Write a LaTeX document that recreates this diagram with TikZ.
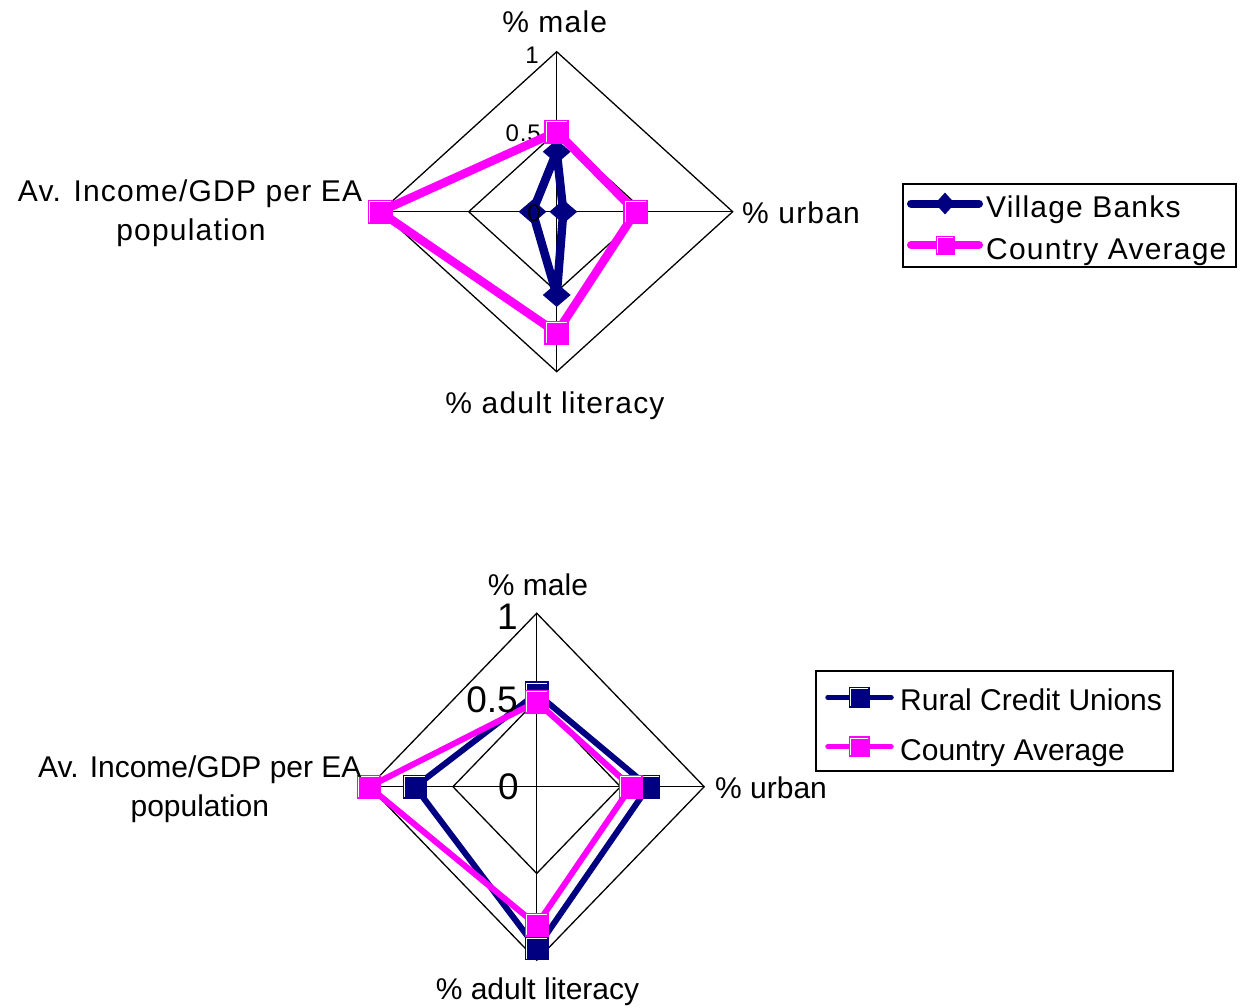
\documentclass[tikz,border=0pt]{standalone}
\usepackage{fontspec}
\setmainfont{Liberation Sans}
\newfontfamily\topfont[LetterSpace=4]{Liberation Sans}
\usetikzlibrary{shapes.geometric}
\definecolor{sernavy}{HTML}{000080}
\definecolor{sermag}{HTML}{FF00FF}
\tikzset{
  gridline/.style={black, line width=1.3pt},
  seriesA/.style={sernavy, line width=#1, line join=round},
  seriesB/.style={sermag, line width=#1, line join=round},
  sqmark/.style={rectangle, fill=#1, draw=none, inner sep=0pt, minimum width=25pt, minimum height=24pt},
  dimark/.style={diamond, fill=sernavy, draw=none, inner sep=0pt, minimum width=28pt, minimum height=24pt},
  hilite/.style={white, line width=1pt},
  toplabel/.style={font=\topfont\fontsize{30}{30}\selectfont, inner sep=0pt},
  botlabel/.style={font=\fontsize{30}{30}\selectfont, inner sep=0pt},
  toptick/.style={font=\topfont\fontsize{24}{24}\selectfont, inner sep=0pt, anchor=east},
  bottick/.style={font=\fontsize{37}{37}\selectfont, inner sep=0pt, anchor=east},
  legbox/.style={black, line width=1.5pt},
}
\newcommand{\hl}[1]{\draw[hilite] ([shift={(2,-2)}]#1.south west) -- ([shift={(2,2)}]#1.north west) -- ([shift={(-2,2)}]#1.north east);}
\begin{document}
\begin{tikzpicture}[x=1pt, y=-1pt]
\path[use as bounding box, fill=white] (0,0) rectangle (1240,1007);

% ================= Chart 1 =================
\coordinate (c1) at (556.7,211.7);
\coordinate (c1t) at (556.7,51.7);
\coordinate (c1r) at (732.7,211.7);
\coordinate (c1b) at (556.7,371.7);
\coordinate (c1l) at (380.7,211.7);
\coordinate (c1th) at (556.7,131.7);
\coordinate (c1rh) at (644.7,211.7);
\coordinate (c1bh) at (556.7,291.7);
\coordinate (c1lh) at (468.7,211.7);
\draw[gridline] (c1t) -- (c1r) -- (c1b) -- (c1l) -- cycle;
\draw[gridline] (c1th) -- (c1rh) -- (c1bh) -- (c1lh) -- cycle;
\draw[gridline] (c1t) -- (c1b);
\draw[gridline] (c1l) -- (c1r);

\node[toptick] (tk1a) at (539,55) {1};
\node[toptick] (tk1b) at (541,133.5) {0.5};

% Village Banks
\coordinate (vbm) at (556.7,151.7);
\coordinate (vbu) at (563.3,211.7);
\coordinate (vbl) at (556.7,295);
\coordinate (vbi) at (532.5,211.7);
\draw[seriesA=8.5pt] (vbm) -- (vbu) -- (vbl) -- (vbi) -- cycle;
\foreach \p in {vbm,vbu,vbl,vbi} \node[dimark] (\p n) at (\p) {};
\node[toptick] (tk1c) at (541,213) {0};

% Country Average (chart 1)
\coordinate (cam) at (556.7,131.7);
\coordinate (cau) at (635.7,211.7);
\coordinate (cal) at (556.7,332.7);
\coordinate (cai) at (380,211.7);
\draw[seriesB=8.5pt] (cam) -- (cau) -- (cal) -- (cai) -- cycle;
\foreach \p in {cam,cau,cal,cai} {\node[sqmark=sermag] (\p n) at (\p) {}; \hl{\p n}}

% axis labels chart 1
\node[toplabel, anchor=base] (l1male) at (554.7,32.5) {\% male};
\node[toplabel, anchor=base west] (l1urban) at (742,223) {\% urban};
\node[toplabel, anchor=base] (l1lit) at (555,413.5) {\% adult literacy};
\node[toplabel, anchor=base] (l1inc) at (190,201.5) {Av. Income/GDP per EA};
\node[toplabel, anchor=base] (l1pop) at (191,240.5) {population};

% legend 1
\draw[legbox] (903,184) rectangle (1236,267);
\coordinate (lg1a1) at (911,203.5);
\coordinate (lg1a2) at (979,203.5);
\draw[sernavy, line width=8pt, line cap=round] (lg1a1) -- (lg1a2);
\node[dimark, minimum width=20pt, minimum height=22pt] (lg1am) at (945,203.5) {};
\node[toplabel, anchor=base west] (lg1at) at (986,217) {Village Banks};
\coordinate (lg1b1) at (911,245);
\coordinate (lg1b2) at (979,245);
\draw[sermag, line width=8pt, line cap=round] (lg1b1) -- (lg1b2);
\node[sqmark=sermag, minimum width=19pt, minimum height=19pt] (lg1bm) at (945,245) {};
\hl{lg1bm}
\node[toplabel, anchor=base west] (lg1bt) at (986,259.5) {Country Average};

% ================= Chart 2 =================
\coordinate (c2) at (536.7,786.7);
\coordinate (c2t) at (536.7,613.2);
\coordinate (c2r) at (704.2,786.7);
\coordinate (c2b) at (536.7,960.2);
\coordinate (c2l) at (369.2,786.7);
\coordinate (c2th) at (536.7,699.95);
\coordinate (c2rh) at (620.45,786.7);
\coordinate (c2bh) at (536.7,873.45);
\coordinate (c2lh) at (452.95,786.7);
\draw[gridline] (c2t) -- (c2r) -- (c2b) -- (c2l) -- cycle;
\draw[gridline] (c2th) -- (c2rh) -- (c2bh) -- (c2lh) -- cycle;
\draw[gridline] (c2t) -- (c2b);
\draw[gridline] (c2l) -- (c2r);

\node[bottick] (tk2a) at (518,616.7) {1};
\node[bottick] (tk2c) at (519,786.5) {0};

% Rural Credit Unions
\coordinate (rcm) at (536.7,693.3);
\coordinate (rcu) at (648.3,786.7);
\coordinate (rcl) at (536.7,948.3);
\coordinate (rci) at (415,786.7);
\draw[seriesA=6pt] (rcm) -- (rcu) -- (rcl) -- (rci) -- cycle;
\foreach \p in {rcm,rcu,rcl,rci} {\node[sqmark=sernavy, minimum width=24pt, minimum height=24pt] (\p n) at (\p) {}; \hl{\p n}}

% Country Average (chart 2)
\coordinate (dam) at (536.7,701.7);
\coordinate (dau) at (631,786.7);
\coordinate (dal) at (536.7,925);
\coordinate (dai) at (369,786.7);
\draw[seriesB=6pt] (dam) -- (dau) -- (dal) -- (dai) -- cycle;
\node[bottick] (tk2b) at (518,700) {0.5};
\foreach \p in {dam,dau,dal,dai} {\node[sqmark=sermag, minimum width=24pt, minimum height=24pt] (\p n) at (\p) {}; \hl{\p n}}

% axis labels chart 2
\node[botlabel, anchor=base] (l2male) at (538,595) {\% male};
\node[botlabel, anchor=base west] (l2urban) at (715,798) {\% urban};
\node[botlabel, anchor=base] (l2lit) at (537.5,999.5) {\% adult literacy};
\node[botlabel, anchor=base] (l2inc) at (199.8,777.5) {Av. Income/GDP per EA};
\node[botlabel, anchor=base] (l2pop) at (199.8,816.5) {population};

% legend 2
\draw[legbox] (816,671) rectangle (1173,771);
\coordinate (lg2a1) at (828,697.3);
\coordinate (lg2a2) at (891,697.3);
\draw[sernavy, line width=5.5pt, line cap=round] (lg2a1) -- (lg2a2);
\node[sqmark=sernavy, minimum width=21pt, minimum height=21pt] (lg2am) at (859,697.3) {};
\hl{lg2am}
\node[botlabel, anchor=base west] (lg2at) at (900,710.5) {Rural Credit Unions};
\coordinate (lg2b1) at (828,746.7);
\coordinate (lg2b2) at (891,746.7);
\draw[sermag, line width=5.5pt, line cap=round] (lg2b1) -- (lg2b2);
\node[sqmark=sermag, minimum width=21pt, minimum height=21pt] (lg2bm) at (859,746.7) {};
\hl{lg2bm}
\node[botlabel, anchor=base west] (lg2bt) at (900,760) {Country Average};
\end{tikzpicture}
\end{document}
